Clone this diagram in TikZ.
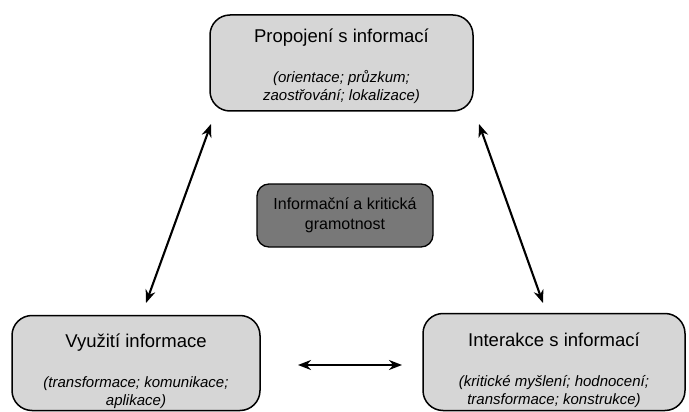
\documentclass[tikz,border=0pt]{standalone}
\usepackage{fontspec}
\setmainfont{Liberation Sans}
\usetikzlibrary{arrows.meta, positioning}

\newcommand{\titletext}[2]{\rule{0pt}{#1}{\upshape\fontsize{18.5}{22}\selectfont #2}}

\begin{document}
\begin{tikzpicture}[x=1pt,y=-1pt,
    area_node/.style={rectangle, rounded corners=20pt, draw, line width=1.5pt, fill=black!16, align=center, inner sep=0pt,
        font=\fontsize{15}{17.5}\selectfont\itshape},
    core_node/.style={rectangle, rounded corners=12pt, draw, line width=1.3pt, fill=black!53, align=center,
        font=\fontsize{16}{19.5}\selectfont},
    link/.style={{Stealth[length=13pt,width=10pt]}-{Stealth[length=13pt,width=10pt]}, line width=2.1pt},
    ]
    \useasboundingbox (0,0) rectangle (689,412);
    % Boxes
    \node[area_node, minimum width=263pt, minimum height=96pt] (conn) at (341.5,63)
        {\titletext{19.5pt}{Propojení s informací}\\[23pt]
         (orientace; průzkum;\\zaostřování; lokalizace)};
    \node[core_node, minimum width=176pt, minimum height=63pt] (core) at (345,215.5)
        {Informační a kritická\\gramotnost};
    \node[area_node, minimum width=248pt, minimum height=95pt] (use) at (136,363)
        {\titletext{30pt}{Využití informace}\\[23pt]
         (transformace; komunikace;\\aplikace)};
    \node[area_node, minimum width=262pt, minimum height=97pt] (inter) at (554,362)
        {\titletext{30pt}{Interakce s informací}\\[23pt]
         (kritické myšlení; hodnocení;\\transformace; konstrukce)};

    % Arrow ends
    \coordinate (conn_l) at (211,124); \coordinate (use_t) at (146,303);
    \coordinate (conn_r) at (479,124); \coordinate (inter_t) at (543,303);
    \coordinate (use_r) at (298,365); \coordinate (inter_l) at (402,365);

    % Arrows
    \draw[link] (conn_l) -- (use_t); \draw[link] (conn_r) -- (inter_t);
    \draw[link] (use_r) -- (inter_l);
\end{tikzpicture}
\end{document}
